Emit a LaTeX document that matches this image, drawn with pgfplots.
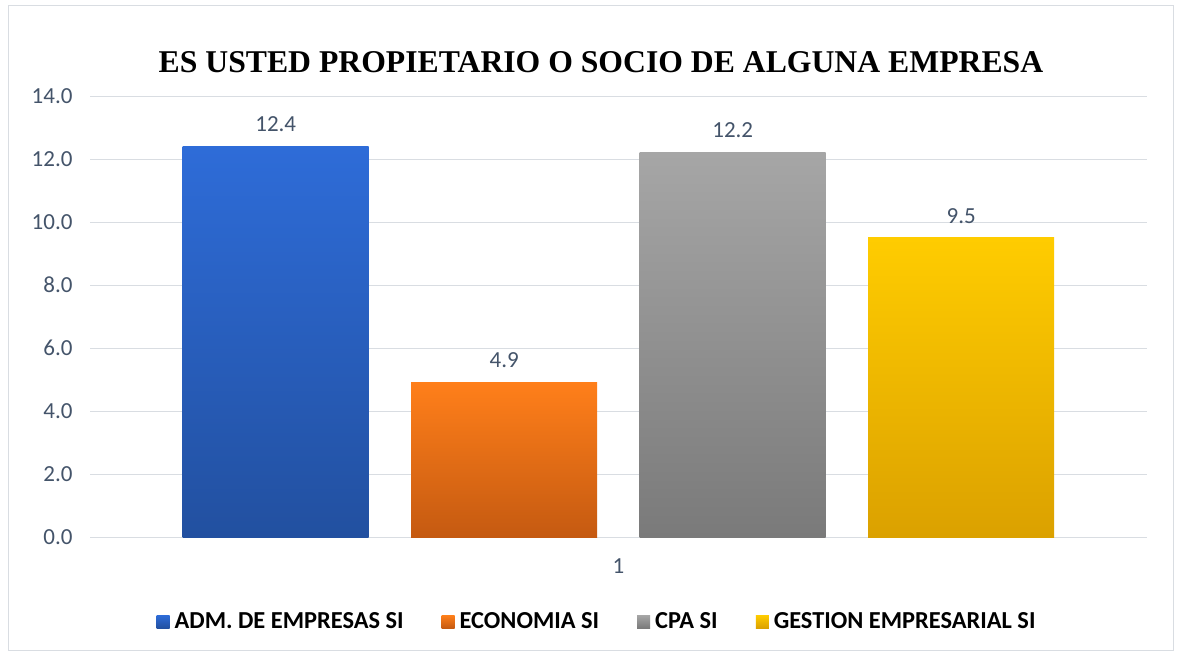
\documentclass[border=0pt]{standalone}
\usepackage{pgfplots}
\pgfplotsset{compat=1.18}
\usepackage{fontspec}
\setmainfont{Carlito}
\newfontfamily\titlefont{Liberation Serif}
\definecolor{tickc}{RGB}{68,84,106}
\definecolor{gridc}{RGB}{217,221,226}
\definecolor{blueT}{RGB}{46,108,216}
\definecolor{blueB}{RGB}{34,80,160}
\definecolor{orT}{RGB}{255,127,26}
\definecolor{orB}{RGB}{197,90,17}
\definecolor{grT}{RGB}{166,166,166}
\definecolor{grB}{RGB}{122,122,122}
\definecolor{yeT}{RGB}{255,204,0}
\definecolor{yeB}{RGB}{219,161,0}
\begin{document}
\begin{tikzpicture}
\path[use as bounding box, fill=white] (0pt,0pt) rectangle (1181pt,657pt);
\draw[gridc, line width=1pt] (8pt,7pt) rectangle (1173pt,651pt);
\node[font=\titlefont\bfseries\fontsize{31.7}{38}\selectfont, anchor=center] at (601pt,595pt) {ES USTED PROPIETARIO O SOCIO DE ALGUNA EMPRESA};
\begin{axis}[
  at={(90pt,120pt)}, anchor=south west,
  scale only axis, width=1057pt, height=441pt,
  xmin=0, xmax=2, ymin=0, ymax=14,
  ybar=42.5pt, bar width=186pt,
  axis line style={draw=none},
  ytick={0,2,...,14},
  xtick={1}, xticklabels={1},
  tick style={draw=none},
  ymajorgrids, grid style={gridc, line width=1pt},
  yticklabel style={font=\fontsize{23}{27}\selectfont, text=tickc, xshift=-14pt},
  xticklabel style={font=\fontsize{23}{27}\selectfont, text=tickc, yshift=-14pt},
  /pgf/number format/.cd, fixed, fixed zerofill, precision=1, assume math mode=true,
  /pgfplots/.cd,
  nodes near coords,
  nodes near coords style={font=\fontsize{23}{27}\selectfont, text=tickc, yshift=11pt, /pgf/number format/.cd, fixed, fixed zerofill, precision=1, assume math mode=true},
  legend style={at={(0.4797,-0.192)}, anchor=center, draw=none, fill=none,
    legend columns=-1, font=\fontsize{24.4}{29}\selectfont\bfseries,
    /tikz/every odd column/.append style={column sep=3pt},
    /tikz/every even column/.append style={column sep=36pt}},
  legend image code/.code={\path[#1, draw=none] (0pt,-6.5pt) rectangle (13pt,6.5pt);},
]
\addplot[draw=none, top color=blueT, bottom color=blueB] coordinates {(1,12.4)};
\addplot[draw=none, top color=orT, bottom color=orB] coordinates {(1,4.9)};
\addplot[draw=none, top color=grT, bottom color=grB] coordinates {(1,12.2)};
\addplot[draw=none, top color=yeT, bottom color=yeB] coordinates {(1,9.5)};
\legend{ADM. DE EMPRESAS SI, ECONOMIA SI, CPA SI, GESTION EMPRESARIAL SI}
\end{axis}
\end{tikzpicture}
\end{document}
